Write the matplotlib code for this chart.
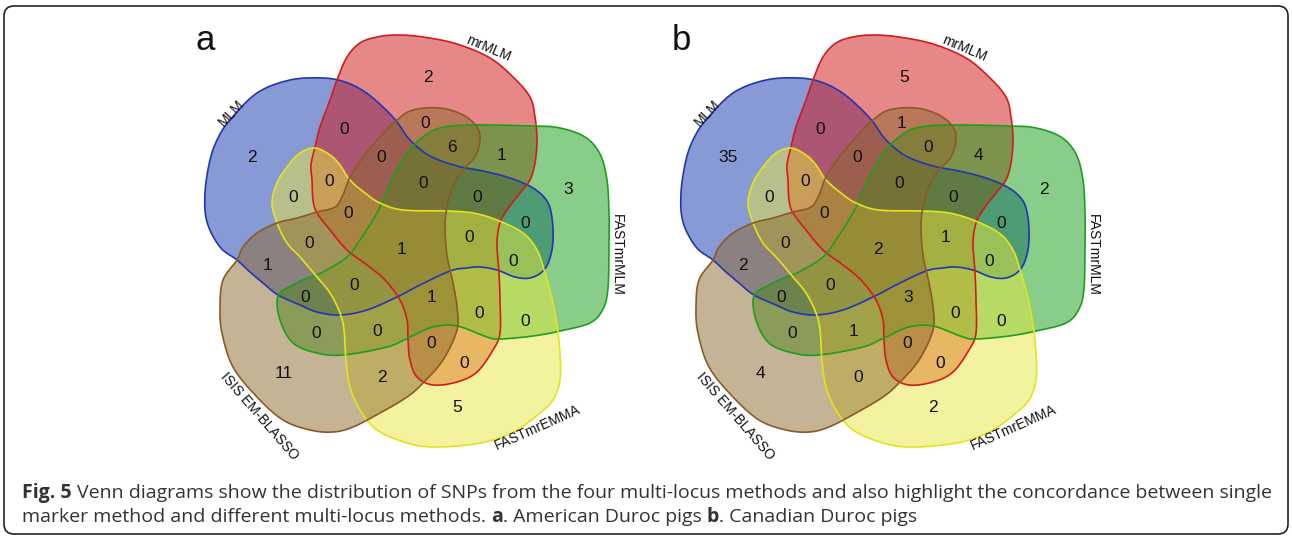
import numpy as np
import matplotlib
matplotlib.use("Agg")
import matplotlib.pyplot as plt
from matplotlib.patches import PathPatch, FancyBboxPatch
from matplotlib.path import Path
from matplotlib.transforms import Affine2D
from matplotlib import font_manager

# ---- data ----
set_names = ["MLM", "mrMLM", "FASTmrMLM", "FASTmrEMMA", "ISIS EM-BLASSO"]
panel_letters = ["a", "b"]

# region counts, same order as the label slots below
counts_a = [2, 2, 3, 5, 11,
            0, 0, 6, 1, 0, 0, 0, 0, 0, 0, 0, 0, 1,
            0, 0, 0, 1, 0, 0, 0, 0, 1, 0, 0, 0, 2]
counts_b = [35, 5, 2, 2, 4,
            0, 1, 0, 4, 0, 0, 0, 0, 0, 0, 0, 0, 2,
            0, 0, 0, 2, 1, 0, 0, 0, 3, 1, 0, 0, 0]

# caption runs: (text, bold)
caption_1 = [("Fig. 5", True), (" ", False),
             ("Venn diagrams show the distribution of SNPs from the four multi-locus methods "
              "and also highlight the concordance between single", False)]
caption_2 = [("marker method and different multi-locus methods.", False), (" ", False),
             ("a", True), (". American Duroc pigs", False), (" ", False),
             ("b", True), (". Canadian Duroc pigs", False)]

# ---- layout (pixel space of panel a, panel b is shifted right) ----
PANEL_SHIFT = 476

outlines = [
    # MLM
    [(290, 80), (323, 78), (345, 82), (365, 92), (383, 107), (397, 122), (410, 140),
     (430, 156), (457, 166), (483, 171), (510, 178), (533, 188), (547, 201), (552, 218),
     (553, 240), (550, 258), (543, 271), (530, 278), (515, 277), (497, 270), (480, 267),
     (467, 268), (450, 271), (420, 285), (397, 297), (367, 310), (340, 315), (317, 312),
     (300, 305), (278, 295), (263, 283), (250, 272), (237, 260), (220, 247), (207, 222),
     (205, 193), (210, 160), (218, 138), (230, 120), (257, 93)],
    # mrMLM
    [(312, 180), (313, 200), (317, 213), (330, 230), (347, 250), (367, 265), (385, 280),
     (400, 300), (407, 320), (408, 340), (410, 360), (417, 377), (433, 385), (457, 382),
     (477, 372), (493, 350), (500, 333), (500, 300), (499, 273), (497, 243), (500, 223),
     (507, 210), (520, 193), (530, 180), (535, 163), (537, 140), (535, 117), (530, 97),
     (513, 77), (490, 58), (457, 44), (423, 37), (397, 35), (377, 37), (360, 43),
     (347, 57), (337, 80), (330, 100), (320, 127), (315, 147), (311, 165)],
    # FASTmrMLM
    [(278, 296), (293, 285), (310, 277), (323, 272), (347, 257), (360, 240), (377, 213),
     (385, 195), (397, 170), (410, 150), (423, 137), (440, 128), (470, 125), (533, 126),
     (560, 128), (585, 137), (600, 154), (607, 180), (609, 213), (609, 245), (608, 288),
     (603, 309), (590, 323), (560, 331), (533, 336), (500, 339), (487, 337), (457, 326),
     (433, 327), (410, 337), (387, 347), (343, 355), (317, 353), (293, 343), (280, 320)],
    # FASTmrEMMA
    [(315, 148), (330, 155), (340, 165), (350, 180), (365, 193), (380, 203), (403, 210),
     (447, 211), (473, 213), (497, 220), (523, 233), (537, 250), (545, 273), (552, 298),
     (557, 325), (560, 353), (560, 380), (553, 400), (540, 413), (517, 430), (493, 440),
     (467, 445), (433, 447), (407, 443), (377, 430), (360, 410), (350, 387), (346, 360),
     (344, 330), (340, 313), (330, 293), (317, 277), (300, 257), (287, 243), (277, 223),
     (272, 203), (277, 183), (287, 167), (300, 153)],
    # ISIS EM-BLASSO
    [(237, 260), (223, 280), (220, 307), (222, 333), (233, 367), (257, 397), (283, 420),
     (310, 430), (333, 432), (353, 427), (380, 413), (407, 397), (423, 383), (443, 360),
     (457, 330), (457, 307), (453, 283), (447, 255), (445, 227), (447, 207), (453, 187),
     (463, 170), (475, 157), (480, 140), (477, 127), (463, 115), (440, 108), (413, 110),
     (397, 120), (380, 137), (363, 157), (350, 177), (343, 195), (335, 207), (317, 212),
     (297, 218), (277, 223), (257, 233), (243, 247)],
]
fill_cols = ["#1337AD", "#D11313", "#139F13", "#E7E741", "#8D692D"]
edge_cols = ["#2236B2", "#D41B1B", "#1E9E1E", "#E3E31E", "#8A5A28"]

label_slots = [
    (252, 158), (428, 77), (568, 190), (457, 408), (284, 373),
    (344, 129), (425, 124), (452, 148), (502, 155), (381, 158), (423, 183),
    (477, 198), (525, 223), (329, 182), (293, 198), (348, 213), (309, 244),
    (267, 265), (305, 297), (316, 334), (354, 286), (402, 250), (469, 237),
    (513, 262), (525, 322), (479, 313), (432, 298), (377, 331), (431, 343),
    (464, 363), (382, 378),
]
name_pos = [(231, 113, 47), (488, 49, -23), (617, 255, -90), (538, 428, 24), (259, 416, -49)]


def smooth_closed(pts, n=16):
    # periodic Catmull-Rom through the outline points
    P = np.asarray(pts, float)
    N = len(P)
    t = np.linspace(0, 1, n, endpoint=False)[:, None]
    segs = []
    for i in range(N):
        p0, p1, p2, p3 = P[i - 1], P[i], P[(i + 1) % N], P[(i + 2) % N]
        segs.append(0.5 * (2 * p1 + (-p0 + p2) * t
                           + (2 * p0 - 5 * p1 + 4 * p2 - p3) * t ** 2
                           + (-p0 + 3 * p1 - 3 * p2 + p3) * t ** 3))
    v = np.vstack(segs)
    return Path(np.vstack([v, v[:1]]), closed=True)


names = {f.name for f in font_manager.fontManager.ttflist}
sans = "Liberation Sans" if "Liberation Sans" in names else "DejaVu Sans"
cap_font = "Open Sans" if "Open Sans" in names else sans
CAP_COLOR = "#333333"

fig = plt.figure(figsize=(12.92, 5.38), dpi=100)
ax = fig.add_axes([0, 0, 1, 1])
ax.set_xlim(0, 1292)
ax.set_ylim(538, 0)
ax.axis("off")

ax.add_patch(FancyBboxPatch((4, 6), 1284, 528, boxstyle="round,pad=0,rounding_size=10",
                            fc="white", ec="#222222", lw=1.2, zorder=0))

shapes = [smooth_closed(o) for o in outlines]
for p, counts in enumerate([counts_a, counts_b]):
    tr = Affine2D().translate(p * PANEL_SHIFT, 0) + ax.transData
    for i in range(5):
        ax.add_patch(PathPatch(shapes[i], fc=fill_cols[i], alpha=0.5, ec="none", transform=tr, zorder=1))
        ax.add_patch(PathPatch(shapes[i], fc="none", ec=edge_cols[i], lw=1.2, transform=tr, zorder=2))
    dx = p * PANEL_SHIFT
    for (x, y), c in zip(label_slots, counts):
        ax.text(x + dx, y, str(c), ha="center", va="center", fontsize=12.5,
                family=sans, color="#111111", zorder=3)
    for name, (x, y, r) in zip(set_names, name_pos):
        ax.text(x + dx, y, name, ha="center", va="center", rotation=r, fontsize=10,
                family=sans, color="#111111", zorder=3, rotation_mode="anchor")
    ax.text(205 + dx, 40, panel_letters[p], ha="center", va="center", fontsize=25,
            family=sans, color="#111111", zorder=3)

renderer = fig.canvas.get_renderer()


def text_width(s, size, bold):
    t = ax.text(0, 0, s, fontsize=size, family=cap_font, weight="bold" if bold else "normal")
    w = t.get_window_extent(renderer).width
    t.remove()
    return w


def run_width(runs, size):
    sp = text_width("a a", size, False) - text_width("aa", size, False)
    return sum(sp if s == " " else text_width(s, size, b) for s, b in runs)


def draw_runs(x, y, runs, size):
    sp = text_width("a a", size, False) - text_width("aa", size, False)
    for s, b in runs:
        if s == " ":
            x += sp
            continue
        ax.text(x, y, s, fontsize=size, family=cap_font, weight="bold" if b else "normal",
                ha="left", va="baseline", color=CAP_COLOR, zorder=3)
        x += text_width(s, size, b)


# fit the first caption line to the frame width
cap_size = 13 * 1240 / run_width(caption_1, 13)
draw_runs(22, 498, caption_1, cap_size)
draw_runs(22, 522, caption_2, cap_size)

fig.savefig("out.png", dpi=100)
